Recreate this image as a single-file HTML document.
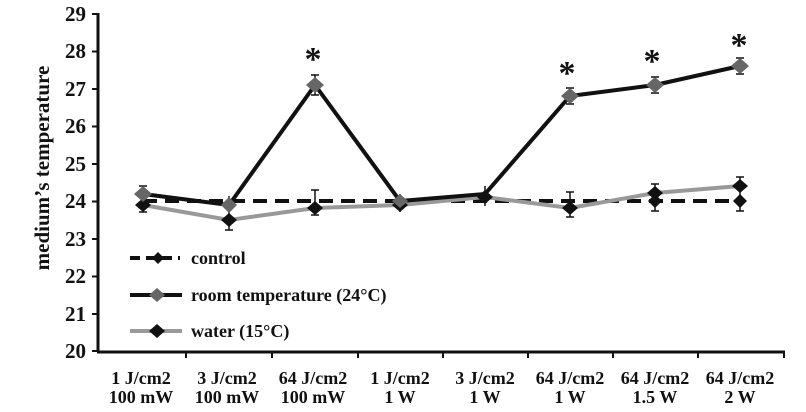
<!DOCTYPE html>
<html><head><style>body{margin:0;background:#fff}</style></head><body>
<svg width="806" height="407" xmlns="http://www.w3.org/2000/svg" font-family="'Liberation Serif', serif" font-weight="bold">
<rect width="806" height="407" fill="#fff"/>
<g stroke="#111" stroke-width="3">
<line x1="98" y1="13" x2="98" y2="352"/>
<line x1="97" y1="352" x2="785" y2="352"/>
</g>
<g stroke="#111" stroke-width="2">
<line x1="92" y1="14" x2="98" y2="14"/><line x1="92" y1="51.5" x2="98" y2="51.5"/><line x1="92" y1="89" x2="98" y2="89"/><line x1="92" y1="126.5" x2="98" y2="126.5"/><line x1="92" y1="164" x2="98" y2="164"/><line x1="92" y1="201.5" x2="98" y2="201.5"/><line x1="92" y1="239" x2="98" y2="239"/><line x1="92" y1="276.5" x2="98" y2="276.5"/><line x1="92" y1="314" x2="98" y2="314"/><line x1="92" y1="351" x2="98" y2="351"/>
<line x1="186" y1="352" x2="186" y2="358"/><line x1="272" y1="352" x2="272" y2="358"/><line x1="358" y1="352" x2="358" y2="358"/><line x1="443" y1="352" x2="443" y2="358"/><line x1="528" y1="352" x2="528" y2="358"/><line x1="613" y1="352" x2="613" y2="358"/><line x1="698" y1="352" x2="698" y2="358"/><line x1="784" y1="352" x2="784" y2="358"/>
</g>
<g font-size="21" text-anchor="end" fill="#111">
<text x="86" y="21">29</text><text x="86" y="58">28</text><text x="86" y="96">27</text><text x="86" y="133">26</text><text x="86" y="171">25</text><text x="86" y="208">24</text><text x="86" y="246">23</text><text x="86" y="283">22</text><text x="86" y="321">21</text><text x="86" y="358">20</text>
</g>
<text transform="translate(49,168) rotate(-90)" font-size="21" text-anchor="middle" fill="#111">medium’s temperature</text>
<g font-size="18" text-anchor="middle" fill="#111">
<text x="141" y="384">1 J/cm2</text><text x="141" y="403">100 mW</text>
<text x="227" y="384">3 J/cm2</text><text x="227" y="403">100 mW</text>
<text x="313" y="384">64 J/cm2</text><text x="313" y="403">100 mW</text>
<text x="400" y="384">1 J/cm2</text><text x="400" y="403">1 W</text>
<text x="485" y="384">3 J/cm2</text><text x="485" y="403">1 W</text>
<text x="570" y="384">64 J/cm2</text><text x="570" y="403">1 W</text>
<text x="655" y="384">64 J/cm2</text><text x="655" y="403">1.5 W</text>
<text x="740" y="384">64 J/cm2</text><text x="740" y="403">2 W</text>
</g>
<polyline fill="none" stroke="#111" stroke-width="4" stroke-dasharray="14,8" points="143,201 229,201 315,201 400,201 485,201 570,201 655,201 740,201"/>
<polyline fill="none" stroke="#999" stroke-width="4" points="143,205 229,220 315,208 400,205 485,197 570,208 655,193 740,186"/>
<polyline fill="none" stroke="#111" stroke-width="4" points="143,194 229,205 315,85 400,201 485,194 570,96 655,85 740,66"/>
<g stroke="#111" stroke-width="1.5">
<path d="M143,186v26M139,186h8M139,212h8M229,196v34M225,230h8M315,75v20M311,75h8M311,95h8M315,190v25M311,190h8M311,215h8M400,194v18M485,186v20M570,88v16M566,88h8M566,104h8M570,192v25M566,192h8M566,217h8M655,77v16M651,77h8M651,93h8M655,184v27M651,184h8M651,211h8M740,58v16M736,58h8M736,74h8M740,177v34M736,177h8M736,211h8"/>
</g>
<g fill="#111">
<path d="M143,198l8,7-8,7-8-7zM229,213l8,7-8,7-8-7zM315,201l8,7-8,7-8-7zM400,198l8,7-8,7-8-7zM485,190l8,7-8,7-8-7zM570,201l8,7-8,7-8-7zM655,186l8,7-8,7-8-7zM740,179l8,7-8,7-8-7zM740,194l7,7-7,7-7-7zM655,194l7,7-7,7-7-7z"/>
</g>
<g fill="#666">
<path d="M143,186l9,8-9,8-9-8zM229,197l8,8-8,8-8-8zM315,77l9,8-9,8-9-8zM400,194l8,7-8,7-8-7zM570,88l9,8-9,8-9-8zM655,77l9,8-9,8-9-8zM740,58l9,8-9,8-9-8z"/>
</g>
<g font-size="34" text-anchor="middle" fill="#111" font-weight="bold">
<text x="313" y="70">*</text><text x="567" y="84">*</text><text x="652" y="72">*</text><text x="739" y="56">*</text>
</g>
<line x1="130" y1="258" x2="180" y2="258" stroke="#111" stroke-width="4" stroke-dasharray="10,6"/>
<path d="M158,252l6,6-6,6-6-6z" fill="#111"/>
<line x1="130" y1="295" x2="182" y2="295" stroke="#111" stroke-width="4"/>
<path d="M157,288l8,7-8,7-8-7z" fill="#666"/>
<line x1="130" y1="331" x2="182" y2="331" stroke="#999" stroke-width="4"/>
<path d="M157,324l8,7-8,7-8-7z" fill="#111"/>
<g font-size="18" fill="#111">
<text x="191" y="264">control</text>
<text x="191" y="301">room temperature (24°C)</text>
<text x="191" y="337">water (15°C)</text>
</g>
</svg>
</body></html>
